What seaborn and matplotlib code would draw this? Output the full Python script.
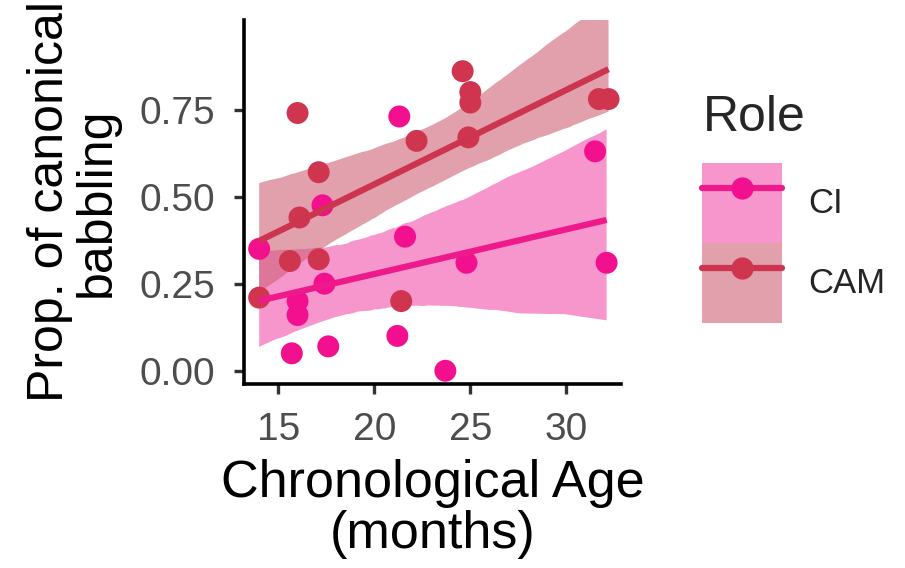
import numpy as np
import pandas as pd
import matplotlib
matplotlib.use("Agg")
import matplotlib.pyplot as plt
import seaborn as sns
from matplotlib.patches import Patch
from matplotlib.lines import Line2D
from matplotlib.legend_handler import HandlerTuple

# ---------------- data ----------------
roles = ["CI", "CAM"]
ci_age = [14.0, 15.7, 16.0, 16.0, 17.3, 17.4, 17.6, 21.2, 21.3, 21.6, 23.7, 24.8, 31.5, 32.1]
ci_prop = [0.35, 0.05, 0.20, 0.16, 0.475, 0.25, 0.07, 0.10, 0.73, 0.385, 0.00, 0.31, 0.63, 0.31]
cam_age = [14.0, 15.6, 16.0, 16.1, 17.1, 17.1, 21.4, 22.2, 24.6, 25.0, 25.0, 24.9, 31.7, 32.2]
cam_prop = [0.21, 0.315, 0.74, 0.44, 0.57, 0.32, 0.20, 0.66, 0.86, 0.80, 0.77, 0.67, 0.78, 0.78]
x_ticks = [15, 20, 25, 30]
y_ticks = [0.00, 0.25, 0.50, 0.75]
y_tick_labels = ["0.00", "0.25", "0.50", "0.75"]

df = pd.DataFrame({
    "age": ci_age + cam_age,
    "prop": ci_prop + cam_prop,
    "Role": ["CI"] * len(ci_age) + ["CAM"] * len(cam_age),
})

# ---------------- style ----------------
sns.set_style("ticks")
plt.rcParams["font.family"] = ["Liberation Sans", "DejaVu Sans"]

point_col = {"CI": "#F2108F", "CAM": "#D03550"}
line_col = {"CI": "#EE1A8C", "CAM": "#CC3450"}
band_col = {"CI": "#F250AC", "CAM": "#CD6175"}
band_alpha = 0.6

fig = plt.figure(figsize=(9.05, 5.68), dpi=100)
ax = fig.add_axes([244 / 905, 1 - 384 / 568, (621 - 244) / 905, (384 - 20) / 568])

for role in roles:
    sub = df[df["Role"] == role]
    n_before = len(ax.collections)
    sns.regplot(data=sub, x="age", y="prop", scatter=False, ci=95, n_boot=2000,
                seed=3, truncate=True, color=line_col[role],
                line_kws=dict(lw=4.5, solid_capstyle="butt", zorder=4), ax=ax)
    for coll in ax.collections[n_before:]:
        coll.set_facecolor(band_col[role])
        coll.set_alpha(band_alpha)
        coll.set_edgecolor("none")
        coll.set_zorder(1)

sns.scatterplot(data=df, x="age", y="prop", hue="Role", hue_order=roles,
                palette=point_col, s=250, linewidth=0, legend=False,
                zorder=3, ax=ax)

ax.set_xlim(13.21, 32.85)
ax.set_ylim(-0.038, 1.007)
ax.set_xticks(x_ticks)
ax.set_yticks(y_ticks)
ax.set_yticklabels(y_tick_labels)
sns.despine(ax=ax)
for side in ["left", "bottom"]:
    ax.spines[side].set_linewidth(2.6)
    ax.spines[side].set_color("black")
ax.tick_params(axis="both", length=7, width=2.4, color="#333333",
               labelsize=28, labelcolor="#4D4D4D")
ax.tick_params(axis="x", pad=13)
ax.tick_params(axis="y", pad=14)

ax.set_xlabel("Chronological Age\n(months)", fontsize=37.5, linespacing=1.05,
              labelpad=8, color="black")
ax.set_ylabel("Prop. of canonical\nbabbling", fontsize=36, linespacing=1.02,
              labelpad=14, color="black")

# legend
fig.text(703 / 905, 1 - 118 / 568, "Role", fontsize=36, ha="left", va="center")
handles = []
for role in roles:
    handles.append((Patch(facecolor=band_col[role], alpha=band_alpha, edgecolor="none"),
                    Line2D([], [], color=line_col[role], lw=4.5, marker="o",
                           markersize=16, markeredgewidth=0,
                           markerfacecolor=point_col[role])))
fs_leg = 25
fs_px = fs_leg * 100 / 72
key_px = 80
hh = (key_px / fs_px - 0.245) / 0.65
fig.legend(handles=handles, labels=roles,
           handler_map={tuple: HandlerTuple(ndivide=1, pad=0)},
           loc="upper left", bbox_to_anchor=(702 / 905, 1 - 163 / 568),
           frameon=False, fontsize=fs_leg, borderpad=0, borderaxespad=0,
           labelspacing=0, handlelength=key_px / fs_px, handleheight=hh,
           handletextpad=26 / fs_px)

fig.savefig("out.png", dpi=100)
